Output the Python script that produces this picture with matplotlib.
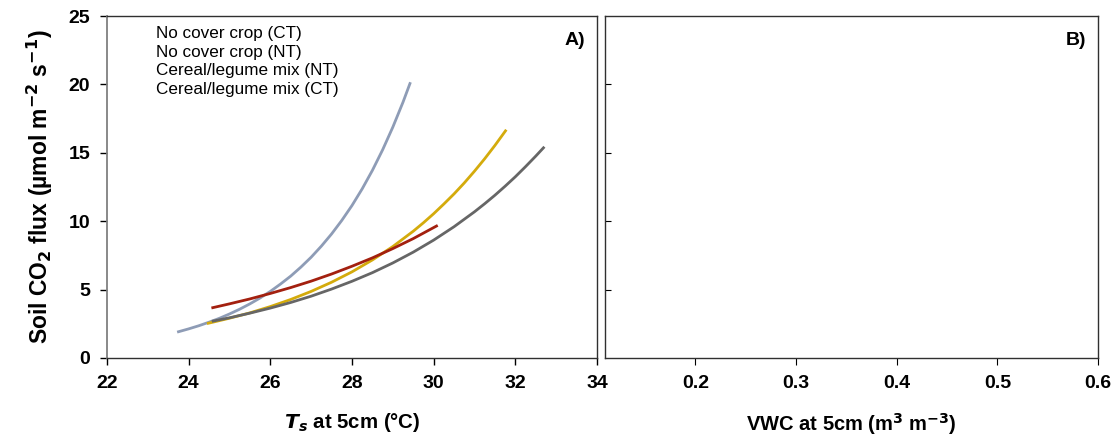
"""Soil CO2 flux vs soil temperature (A) and water content (B)"""

import matplotlib
matplotlib.use("Agg")
import matplotlib.pyplot as plt

plt.rcParams['font.family'] = ['Liberation Sans', 'DejaVu Sans']

# fitted curves (x = Ts, y = flux)
nc_ct_x = [23.75, 24.0, 24.25, 24.5, 24.75, 25.0, 25.25, 25.5, 25.75, 26.0, 26.25, 26.5,
           26.75, 27.0, 27.25, 27.5, 27.75, 28.0, 28.25, 28.5, 28.75, 29.0, 29.25, 29.42]
nc_ct_y = [1.92, 2.13, 2.36, 2.62, 2.90, 3.22, 3.57, 3.96, 4.39, 4.87, 5.41, 5.99,
           6.65, 7.37, 8.18, 9.07, 10.06, 11.15, 12.37, 13.72, 15.22, 16.88, 18.71, 20.07]

nc_nt_x = [24.48, 25.0, 25.5, 26.0, 26.5, 27.0, 27.5, 28.0, 28.5, 29.0, 29.5, 29.75,
           30.0, 30.25, 30.5, 30.75, 31.0, 31.25, 31.5, 31.76]
nc_nt_y = [2.54, 2.91, 3.30, 3.76, 4.28, 4.87, 5.54, 6.30, 7.17, 8.15, 9.27, 9.89,
           10.55, 11.26, 12.00, 12.80, 13.66, 14.57, 15.54, 16.61]

cl_nt_x = [24.6, 25.0, 25.5, 26.0, 26.5, 27.0, 27.5, 28.0, 28.5, 29.0, 29.5, 30.0,
           30.5, 31.0, 31.25, 31.5, 31.75, 32.0, 32.25, 32.5, 32.69]
cl_nt_y = [2.70, 2.94, 3.28, 3.65, 4.06, 4.52, 5.04, 5.61, 6.24, 6.95, 7.74, 8.62,
           9.60, 10.69, 11.28, 11.90, 12.56, 13.25, 13.99, 14.76, 15.37]

cl_ct_x = [24.59, 25.0, 25.5, 26.0, 26.5, 27.0, 27.5, 28.0, 28.5, 29.0, 29.5, 30.07]
cl_ct_y = [3.68, 3.96, 4.32, 4.72, 5.15, 5.62, 6.14, 6.71, 7.32, 8.00, 8.73, 9.65]

labels = ['No cover crop (CT)', 'No cover crop (NT)',
          'Cereal/legume mix (NT)', 'Cereal/legume mix (CT)']
colors = ['#8e9cb6', '#d4ab0c', '#666666', '#a3200f']

fig = plt.figure(figsize=(11.16, 4.44), dpi=100)
ax1 = fig.add_axes([0.0959, 0.1937, 0.439, 0.770])
ax2 = fig.add_axes([0.542, 0.1937, 0.442, 0.770])

series = [(nc_ct_x, nc_ct_y), (nc_nt_x, nc_nt_y), (cl_nt_x, cl_nt_y), (cl_ct_x, cl_ct_y)]
lines = []
for (xs, ys), c, lab in zip(series, colors, labels):
    ln, = ax1.plot(xs, ys, color=c, lw=2, label=lab)
    lines.append(ln)

ax1.set_xlim(22, 34)
ax1.set_ylim(0, 25)
ax1.set_xticks(range(22, 35, 2))
ax1.set_yticks(range(0, 26, 5))
ax1.tick_params(direction='out', length=5, width=1, labelsize=14, pad=7)
for lab in ax1.get_xticklabels() + ax1.get_yticklabels():
    lab.set_fontweight('bold')
for s in ax1.spines.values():
    s.set_color('#303030')
    s.set_linewidth(1)
ax1.spines['left'].set_color('#808080')
ax1.spines['left'].set_linewidth(1.3)

leg = ax1.legend(handles=lines, loc='upper left', bbox_to_anchor=(0.08, 1.0),
                 frameon=False, handlelength=0, handletextpad=0,
                 labelspacing=0.2, fontsize=12.3, borderaxespad=0.2)
for h in leg.legend_handles:
    h.set_visible(False)

ax1.text(0.975, 0.93, 'A)', transform=ax1.transAxes, ha='right', va='center',
         fontsize=14, fontweight='bold')
ax1.set_xlabel(r'$\bfit{T}_{\bfit{s}}$ at 5cm (°C)', fontsize=14.7, fontweight='bold',
               labelpad=14)
ax1.set_ylabel(r'Soil CO$_\mathbf{2}$ flux (µmol m$^\mathbf{-2}$ s$^\mathbf{-1}$)',
               fontsize=16.5, fontweight='bold', labelpad=10)

ax2.set_xlim(0.11, 0.6)
ax2.set_ylim(0, 25)
ax2.set_xticks([0.2, 0.3, 0.4, 0.5, 0.6])
ax2.set_xticklabels(['0.2', '0.3', '0.4', '0.5', '0.6'])
ax2.set_yticks([5, 10, 15, 20])
ax2.tick_params(axis='x', direction='out', length=5, labelsize=14, pad=7)
ax2.tick_params(axis='y', direction='in', length=4, labelleft=False)
for lab in ax2.get_xticklabels():
    lab.set_fontweight('bold')
for s in ax2.spines.values():
    s.set_color('#303030')
    s.set_linewidth(1)
ax2.text(0.975, 0.93, 'B)', transform=ax2.transAxes, ha='right', va='center',
         fontsize=14, fontweight='bold')
ax2.set_xlabel(r'VWC at 5cm (m$^\mathbf{3}$ m$^\mathbf{-3}$)', fontsize=14.5,
               fontweight='bold', labelpad=14)

fig.savefig('out.png', dpi=100)
